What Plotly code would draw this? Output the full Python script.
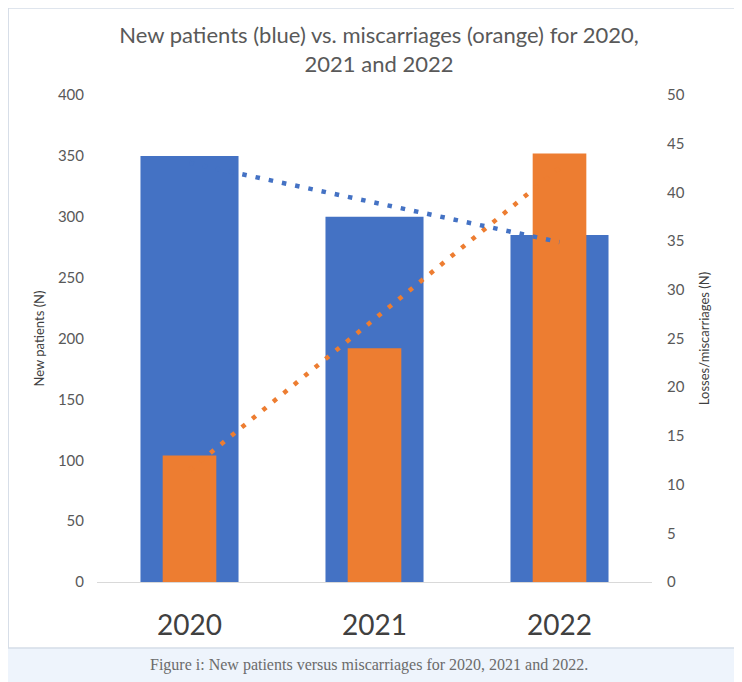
import numpy as np
import plotly.graph_objects as go

# values
years = ["2020", "2021", "2022"]
new_patients = [350, 300, 285]
losses = [13, 24, 44]

blue = "#4472C4"
orange = "#ED7D31"
grey_txt = "#595959"

# linear trendlines (like Excel's), fitted on the category index
idx = np.arange(len(years))
trend_patients = np.polyval(np.polyfit(idx, new_patients, 1), idx)
trend_losses = np.polyval(np.polyfit(idx, losses, 1), idx)

fig = go.Figure()
fig.add_trace(go.Bar(x=years, y=new_patients, width=0.53, marker_color=blue,
                     marker_line_width=0, yaxis="y", name="New patients"))
fig.add_trace(go.Bar(x=years, y=losses, width=0.29, marker_color=orange,
                     marker_line_width=0, yaxis="y2", name="Losses"))
fig.add_trace(go.Scatter(x=years, y=trend_losses, mode="lines", yaxis="y2",
                         line=dict(color=orange, width=4.5, dash="4.5px,9px"),
                         name="Losses trend"))
fig.add_trace(go.Scatter(x=years, y=trend_patients, mode="lines", yaxis="y3",
                         line=dict(color=blue, width=4.5, dash="4.5px,9px"),
                         name="Patients trend"))

tickfont = dict(family="Lato, sans-serif", size=15, color=grey_txt)
fig.update_layout(
    width=742, height=682,
    margin=dict(l=89, r=98, t=87, b=108),
    paper_bgcolor="#EEF4FC", plot_bgcolor="white",
    barmode="overlay", showlegend=False,
    font=dict(family="Lato, sans-serif", color=grey_txt),
    title=dict(text="New patients (blue) vs. miscarriages (orange) for 2020,<br>2021 and 2022",
               x=0.5, xref="container", y=0.948, yref="container", yanchor="middle",
               font=dict(size=22, color=grey_txt)),
    xaxis=dict(type="category", showline=True, linecolor="#D9D9D9", linewidth=1,
               showgrid=False, ticks="", ticklabelstandoff=18,
               tickfont=dict(family="Lato, sans-serif", size=28, color="#404040")),
    yaxis=dict(range=[0, 400], dtick=50, showgrid=False, zeroline=False,
               tickfont=tickfont, ticklabelstandoff=12,
               title=dict(text="New patients (N)", font=dict(size=13, color="#404040"),
                          standoff=10)),
    yaxis2=dict(range=[0, 50], dtick=5, overlaying="y", side="right", showgrid=False,
                zeroline=False, tickfont=tickfont, ticklabelstandoff=14,
                title=dict(text="Losses/miscarriages (N)", font=dict(size=13, color="#404040"),
                           standoff=16)),
    yaxis3=dict(range=[0, 400], overlaying="y", visible=False),
)

# white chart box on the light blue page
fig.add_shape(type="rect", xref="paper", yref="paper", layer="below",
              x0=-0.160, x1=1.153, y0=-0.1355, y1=1.1786,
              fillcolor="white", line=dict(color="#D5DDE7", width=1.5))

fig.add_annotation(text="Figure i: New patients versus miscarriages for 2020, 2021 and 2022.",
                   xref="paper", yref="paper", x=0.49, y=-0.17, yanchor="middle", showarrow=False,
                   font=dict(family="Liberation Serif, serif", size=16, color="#6B6B6B"))

fig.write_html("out.html")
